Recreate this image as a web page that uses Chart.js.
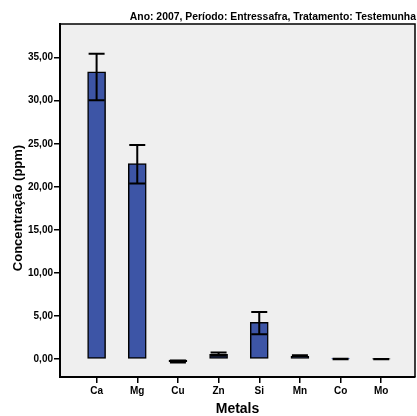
<!DOCTYPE html>
<html>
<head>
<meta charset="utf-8">
<script src="https://cdn.jsdelivr.net/npm/chart.js@4.4.1/dist/chart.umd.min.js"></script>
<style>
  html, body { margin: 0; padding: 0; background: #fff; }
  #wrap { width: 417px; height: 416px; }
</style>
</head>
<body>
<div id="wrap"><canvas id="chart" width="417" height="416"></canvas></div>
<script>
const categories = ['Ca', 'Mg', 'Cu', 'Zn', 'Si', 'Mn', 'Co', 'Mo'];
const means = [33.35, 22.7, -0.27, 0.58, 4.27, 0.35, 0.03, 0.02];
const errLow = [30.05, 20.4, -0.38, 0.42, 2.9, 0.28, 0.0, 0.0];
const errHigh = [35.45, 24.85, -0.15, 0.78, 5.47, 0.45, 0.06, 0.04];
const yTicks = [0, 5, 10, 15, 20, 25, 30, 35];

const titleText = 'Ano: 2007, Período: Entressafra, Tratamento: Testemunha';
const font = 'Liberation Sans, Arial, sans-serif';
const barFill = '#3d55a6';

const fmt = (v) => v.toFixed(2).replace('.', ',');

const frame = {
  id: 'frame',
  beforeDraw(chart) {
    const { ctx, chartArea: a } = chart;
    ctx.save();
    ctx.fillStyle = '#efefef';
    ctx.fillRect(a.left, a.top, a.right - a.left, a.bottom - a.top);
    ctx.restore();
  },
  afterDraw(chart) {
    const { ctx, chartArea: a } = chart;
    ctx.save();
    ctx.strokeStyle = '#000';
    ctx.lineWidth = 1.5;
    ctx.beginPath();
    ctx.moveTo(a.left, a.top);
    ctx.lineTo(a.right, a.top);
    ctx.lineTo(a.right, a.bottom);
    ctx.stroke();

    ctx.fillStyle = '#000';
    ctx.font = `bold 10.4px ${font}`;
    ctx.textAlign = 'right';
    ctx.textBaseline = 'middle';
    ctx.fillText(titleText, 416, 17);

    ctx.font = `bold 14px ${font}`;
    ctx.textAlign = 'center';
    ctx.fillText('Metals', (a.left + a.right) / 2, 409);

    ctx.translate(18, 208);
    ctx.rotate(-Math.PI / 2);
    ctx.font = `bold 13px ${font}`;
    ctx.fillText('Concentração (ppm)', 0, 0);
    ctx.restore();
  },
};

const errorBars = {
  id: 'errorBars',
  afterDatasetsDraw(chart) {
    const { ctx, scales: { x, y } } = chart;
    ctx.save();
    ctx.strokeStyle = '#000';
    ctx.lineWidth = 2;
    categories.forEach((_, i) => {
      const px = x.getPixelForValue(i);
      const lo = y.getPixelForValue(errLow[i]);
      const hi = y.getPixelForValue(errHigh[i]);
      ctx.beginPath();
      ctx.moveTo(px, lo);
      ctx.lineTo(px, hi);
      ctx.moveTo(px - 8, lo);
      ctx.lineTo(px + 8, lo);
      ctx.moveTo(px - 8, hi);
      ctx.lineTo(px + 8, hi);
      ctx.stroke();
    });
    ctx.restore();
  },
};

const borderColors = categories.map((c) => (c === 'Co' ? '#3a5bd0' : c === 'Mo' ? '#666' : '#000'));

new Chart(document.getElementById('chart'), {
  type: 'bar',
  data: {
    datasets: [
      {
        data: means.map((v, i) => ({ x: i, y: v })),
        backgroundColor: barFill,
        borderColor: borderColors,
        borderWidth: 1.5,
        borderSkipped: false,
        barThickness: 18,
      },
    ],
  },
  options: {
    responsive: false,
    animation: false,
    layout: { padding: { top: 24, right: 2, left: 0, bottom: 0 } },
    plugins: { legend: { display: false }, tooltip: { enabled: false } },
    scales: {
      x: {
        type: 'linear',
        min: -0.9,
        max: 7.83,
        offset: false,
        afterBuildTicks: (s) => { s.ticks = categories.map((_, i) => ({ value: i })); },
        afterFit: (s) => { s.height = 39; },
        grid: { drawOnChartArea: false, drawTicks: true, tickLength: 6, color: '#000', lineWidth: 1.5, offset: false },
        border: { display: true, color: '#000', width: 2 },
        ticks: {
          autoSkip: false,
          maxRotation: 0,
          padding: 2,
          color: '#000',
          font: { family: font, size: 10, weight: 'bold' },
          callback: (v) => categories[v],
        },
      },
      y: {
        min: -2.06,
        max: 38.9,
        afterBuildTicks: (s) => { s.ticks = yTicks.map((v) => ({ value: v })); },
        afterFit: (s) => { s.width = 60; },
        grid: { drawOnChartArea: false, drawTicks: true, tickLength: 6, color: '#000', lineWidth: 1.5 },
        border: { display: true, color: '#000', width: 2 },
        ticks: {
          padding: 1,
          color: '#000',
          font: { family: font, size: 10, weight: 'bold' },
          callback: (v) => fmt(v),
        },
      },
    },
  },
  plugins: [frame, errorBars],
});
</script>
</body>
</html>
